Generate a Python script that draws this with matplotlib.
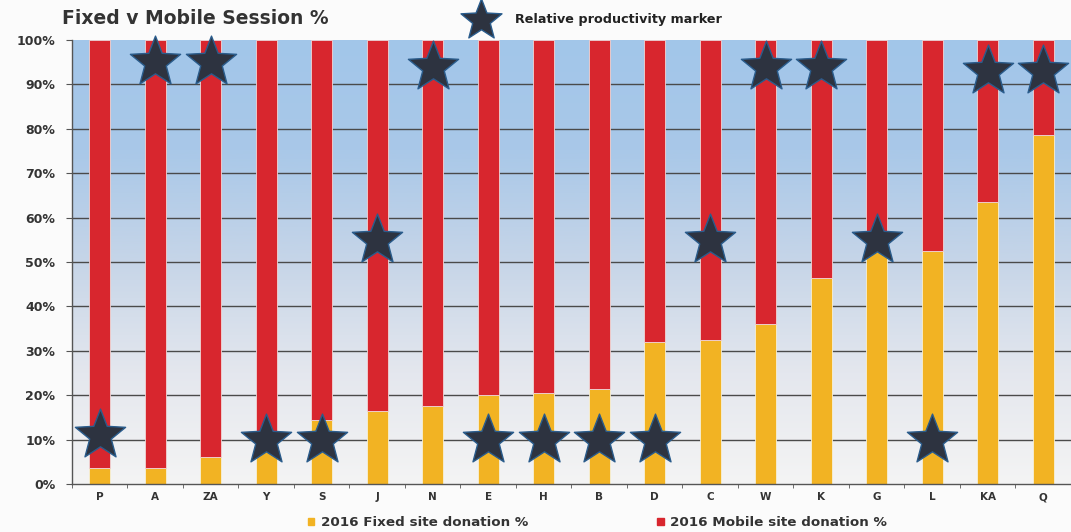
import numpy as np
import matplotlib.pyplot as plt
from matplotlib.colors import LinearSegmentedColormap
from matplotlib.lines import Line2D
from matplotlib.patches import Patch
from matplotlib.path import Path

# fixed vs mobile share per site, plus where the productivity star sits
sites = ['P', 'A', 'ZA', 'Y', 'S', 'J', 'N', 'E', 'H', 'B', 'D', 'C', 'W', 'K', 'G', 'L', 'KA', 'Q']
fixed_pct = [3.5, 3.5, 6, 9, 14.5, 16.5, 17.5, 20, 20.5, 21.5, 32, 32.5, 36, 46.5, 53, 52.5, 63.5, 78.5]
mobile_pct = [100 - f for f in fixed_pct]
star_pct = [11, 95, 95, 10, 10, 55, 94, 10, 10, 10, 10, 55, 94, 94, 55, 10, 93, 93]

yellow = '#f2b323'
red = '#d8262e'
star_face = '#2d3340'
star_edge = '#2a5c8c'

# a slightly chunkier five-point star than the built-in '*'
star = Path.unit_regular_star(5, innerCircle=0.43)

fig = plt.figure(figsize=(10.71, 5.32), dpi=100, facecolor='#fbfbfb')
ax = fig.add_axes([0.0672, 0.0902, 0.9328, 0.8346])

x = np.arange(len(sites))
ax.set_xlim(-0.5, len(sites) - 0.5)
ax.set_ylim(0, 100)

# blue-to-white backdrop behind the bars
bg = LinearSegmentedColormap.from_list('bg', ['#f4f4f4', '#e4e7ee', '#c6d5e8', '#a9c8e8', '#a2c6ea'])
grad = np.linspace(0, 1, 256).reshape(-1, 1)
ax.imshow(grad, cmap=bg, aspect='auto', origin='lower',
          extent=(-0.5, len(sites) - 0.5, 0, 100), zorder=0)

for yv in range(10, 100, 10):
    ax.axhline(yv, color='#4a4a4a', lw=1.0, zorder=1)

w = 0.38
ax.bar(x, fixed_pct, w, color=yellow, edgecolor='#f6f0d8', lw=0.6, zorder=2,
       label='2016 Fixed site donation %')
ax.bar(x, mobile_pct, w, bottom=fixed_pct, color=red, edgecolor='#f0d6d6', lw=0.6, zorder=2,
       label='2016 Mobile site donation %')

ax.plot(x, star_pct, ls='none', marker=star, ms=38, mfc=star_face, mec=star_edge,
        mew=1.0, zorder=3, clip_on=False)

ax.set_yticks(range(0, 101, 10))
ax.set_yticklabels([f'{v}%' for v in range(0, 101, 10)], fontsize=9, fontweight='bold', color='#333333')
ax.set_xticks(x)
ax.set_xticklabels(sites, fontsize=7.5, fontweight='bold', color='#333333')
ax.tick_params(axis='x', length=0, pad=6)
ax.set_xticks(np.arange(-0.5, len(sites), 1), minor=True)
ax.tick_params(axis='x', which='minor', length=3, direction='out', color='#555555')
ax.tick_params(axis='y', length=4, direction='out', color='#555555', pad=8)

for s in ['top', 'right']:
    ax.spines[s].set_visible(False)
for s in ['left', 'bottom']:
    ax.spines[s].set_color('#555555')
    ax.spines[s].set_linewidth(1.0)

fig.text(0.058, 0.966, 'Fixed v Mobile Session %', fontsize=13.5, fontweight='bold',
         color='#333333', va='center')

# star key at the top
fig.add_artist(Line2D([0.449], [0.962], transform=fig.transFigure, ls='none', marker=star,
                      ms=31, mfc=star_face, mec=star_edge, mew=1.0))
fig.text(0.481, 0.964, 'Relative productivity marker', fontsize=9.2, fontweight='bold',
         color='#222222', va='center')

handles = [Patch(color=yellow), Patch(color=red)]
fig.legend(handles, ['2016 Fixed site donation %', '2016 Mobile site donation %'],
           loc='center', bbox_to_anchor=(0.558, 0.018), ncol=2, frameon=False,
           handlelength=0.45, handleheight=0.45, handletextpad=0.5, columnspacing=9.6,
           prop={'size': 9.7, 'weight': 'bold'}, labelcolor='#333333')

fig.savefig('out.png', dpi=100, facecolor=fig.get_facecolor())
